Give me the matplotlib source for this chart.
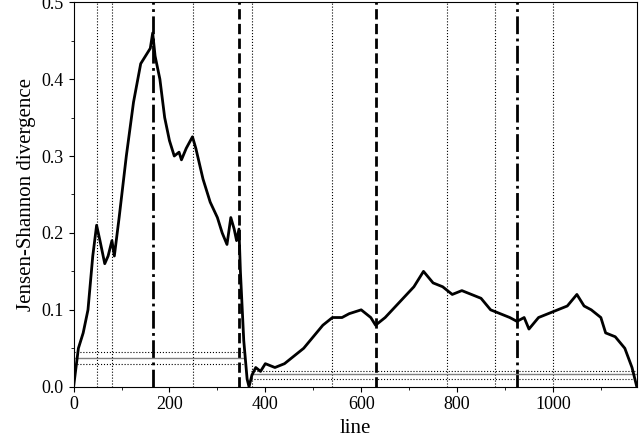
import matplotlib
matplotlib.use("Agg")
import matplotlib.pyplot as plt

x = [0,10,20,30,40,48,55,65,72,80,85,95,110,125,140,150,160,165,170,180,190,200,210,220,225,235,248,255,270,285,300,310,320,328,335,340,345,348,355,362,366,372,380,390,400,420,440,460,480,500,520,540,560,575,600,620,630,650,680,710,730,750,770,790,810,830,850,870,890,910,925,940,950,970,990,1010,1030,1050,1065,1080,1100,1110,1130,1150,1165,1175]
y = [0,0.05,0.07,0.1,0.17,0.21,0.19,0.16,0.17,0.19,0.17,0.22,0.3,0.37,0.42,0.43,0.44,0.46,0.43,0.4,0.35,0.32,0.3,0.305,0.295,0.31,0.325,0.31,0.27,0.24,0.22,0.2,0.185,0.22,0.205,0.19,0.205,0.15,0.06,0.01,0.0,0.015,0.025,0.02,0.03,0.025,0.03,0.04,0.05,0.065,0.08,0.09,0.09,0.095,0.1,0.09,0.08,0.09,0.11,0.13,0.15,0.135,0.13,0.12,0.125,0.12,0.115,0.1,0.095,0.09,0.085,0.09,0.075,0.09,0.095,0.1,0.105,0.12,0.105,0.1,0.09,0.07,0.065,0.05,0.025,0.0]
dotted_x = [48, 80, 250, 372, 540, 780, 880, 1000]
dashdot_x = [165, 925]
dashed_x = [345, 630]
seg_left = (0, 355, [0.045, 0.038, 0.03])
seg_right = (370, 1175, [0.02, 0.016, 0.01])

plt.rcParams['font.family'] = ['Liberation Serif']
fig, ax = plt.subplots(figsize=(6.4, 4.37), dpi=100)
fig.subplots_adjust(left=0.115, right=0.995, bottom=0.115, top=0.995)
for v in dotted_x:
    ax.axvline(v, color='k', ls=':', lw=0.8)
for v in dashdot_x:
    ax.axvline(v, color='k', ls='-.', lw=2)
for v in dashed_x:
    ax.axvline(v, color='k', ls='--', lw=2)
for x0, x1, ys in (seg_left, seg_right):
    ax.plot([x0, x1], [ys[0]]*2, 'k:', lw=0.8)
    ax.plot([x0, x1], [ys[1]]*2, color='gray', lw=1)
    ax.plot([x0, x1], [ys[2]]*2, 'k:', lw=0.8)
ax.plot(x, y, color='k', lw=2)
ax.set_xlim(0, 1175)
ax.set_ylim(0, 0.5)
ax.set_xticks([0, 200, 400, 600, 800, 1000])
ax.set_xticks(range(100, 1200, 200), minor=True)
ax.set_yticks([0, 0.1, 0.2, 0.3, 0.4, 0.5])
ax.set_yticks([0.05, 0.15, 0.25, 0.35, 0.45], minor=True)
ax.tick_params(labelsize=13)
ax.set_xlabel('line', fontsize=15)
ax.set_ylabel('Jensen-Shannon divergence', fontsize=15)
fig.savefig('out.png')
